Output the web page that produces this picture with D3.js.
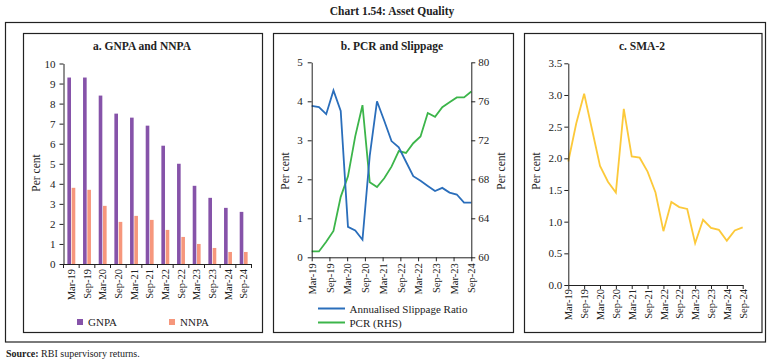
<!DOCTYPE html>
<html><head><meta charset="utf-8">
<script src="https://cdn.jsdelivr.net/npm/d3@7"></script>
<style>
body{margin:0;background:#fff;}
text{font-family:"Liberation Serif","DejaVu Serif",serif;fill:#222;}
.axis path,.axis line{stroke:#222;stroke-width:1;}
</style></head>
<body><svg id="c" width="771" height="362"></svg>
<script>
// ---- Panel a data ----
const catsA = ["Mar-19","Sep-19","Mar-20","Sep-20","Mar-21","Sep-21","Mar-22","Sep-22","Mar-23","Sep-23","Mar-24","Sep-24"];
const gnpa = [9.3,9.3,8.4,7.5,7.3,6.9,5.9,5.0,3.9,3.3,2.8,2.6];
const nnpa = [3.8,3.7,2.9,2.1,2.4,2.2,1.7,1.35,1.0,0.8,0.6,0.6];
const yTicksA = [0,1,2,3,4,5,6,7,8,9,10];
// ---- Panel b data (quarterly Mar-19 .. Sep-24) ----
const tickLabelsB = ["Mar-19","Sep-19","Mar-20","Sep-20","Mar-21","Sep-22","Mar-22","Sep-23","Mar-23","Sep-24"];
const slippage = [3.88,3.85,3.67,4.28,3.75,0.78,0.69,0.45,2.6,4.0,3.5,2.98,2.82,2.45,2.08,1.96,1.83,1.70,1.78,1.66,1.61,1.40,1.40];
const pcr = [60.6,60.6,61.6,62.7,66.2,68.3,72.4,75.6,67.7,67.2,68.1,69.3,70.9,70.7,71.7,72.4,74.8,74.4,75.4,75.9,76.4,76.4,77.0];
const yTicksBL = [0,1,2,3,4,5];
const yTicksBR = [60,64,68,72,76,80];
// ---- Panel c data (quarterly Mar-19 .. Sep-24) ----
const tickLabelsC = ["Mar-19","Sep-19","Mar-20","Sep-20","Mar-21","Sep-21","Mar-22","Sep-22","Mar-23","Sep-23","Mar-24","Sep-24"];
const sma2 = [1.95,2.55,3.02,2.45,1.88,1.63,1.46,2.78,2.03,2.01,1.79,1.46,0.85,1.31,1.23,1.20,0.66,1.03,0.90,0.87,0.70,0.86,0.91];
const yTicksC = [0,0.5,1.0,1.5,2.0,2.5,3.0,3.5];

const C = {gnpa:"#8653a9", nnpa:"#f6977c", blue:"#2a6ebb", green:"#3cb54a", yellow:"#fcc93a"};
const svg = d3.select("#c");

// Frames
svg.append("text").attr("x",392).attr("y",15).attr("text-anchor","middle")
  .style("font-size","11.5px").style("font-weight","bold").text("Chart 1.54: Asset Quality");
svg.append("rect").attr("x",5.5).attr("y",22.5).attr("width",760).attr("height",319.5).attr("fill","none").attr("stroke","#222").attr("stroke-width",1.2);
[[23.5,239],[273.5,240],[524.5,237.5]].forEach(([x,w])=>{
  svg.append("rect").attr("x",x).attr("y",33.5).attr("width",w).attr("height",299).attr("fill","none").attr("stroke","#222").attr("stroke-width",1.2);
});
svg.append("text").attr("x",6).attr("y",357).style("font-size","10px")
  .html('<tspan font-weight="bold">Source:</tspan> RBI supervisory returns.');

function title(x,t){svg.append("text").attr("x",x).attr("y",50).attr("text-anchor","middle")
  .style("font-size","11.5px").style("font-weight","bold").text(t);}
function perCent(x,y){svg.append("text").attr("transform",`translate(${x},${y}) rotate(-90)`)
  .attr("text-anchor","middle").style("font-size","11.5px").text("Per cent");}
function rotLabels(g,off){g.selectAll("text").attr("transform","rotate(-90)").attr("x",-off).attr("y",0)
  .attr("dy","0.35em").style("text-anchor","end").style("font-size","10.5px");}

// ===== Panel a =====
title(142,"a. GNPA and NNPA");
const xa = d3.scaleBand().domain(catsA).range([63.5,251.5]).padding(0);
const xa1 = d3.scaleBand().domain(["GNPA","NNPA"]).range([0,xa.bandwidth()]).paddingInner(0.16).paddingOuter(0.9);
const ya = d3.scaleLinear().domain([0,10]).range([264,63.5]);
const ga = svg.append("g");
catsA.forEach((c,i)=>{
  ga.append("rect").attr("x",xa(c)+xa1("GNPA")).attr("y",ya(gnpa[i])).attr("width",xa1.bandwidth()).attr("height",ya(0)-ya(gnpa[i])).attr("fill",C.gnpa);
  ga.append("rect").attr("x",xa(c)+xa1("NNPA")).attr("y",ya(nnpa[i])).attr("width",xa1.bandwidth()).attr("height",ya(0)-ya(nnpa[i])).attr("fill",C.nnpa);
});
const axA = svg.append("g").attr("class","axis").attr("transform","translate(0,264)")
  .call(d3.axisBottom(xa).tickSize(0).tickPadding(0));
rotLabels(axA,5);
// boundary ticks
catsA.concat(["_end"]).forEach((c,i)=>{
  const x = i<catsA.length ? xa(c) : xa.range()[1];
  svg.append("line").attr("x1",x).attr("x2",x).attr("y1",264).attr("y2",268).attr("stroke","#222");
});
const ayA = svg.append("g").attr("class","axis").attr("transform","translate(63.5,0)")
  .call(d3.axisLeft(ya).tickValues(yTicksA).tickSize(4).tickPadding(4).tickSizeOuter(0));
ayA.selectAll("text").style("font-size","11px");
perCent(40,173);
// legend
svg.append("rect").attr("x",77).attr("y",319).attr("width",6).attr("height",6).attr("fill",C.gnpa);
svg.append("text").attr("x",88).attr("y",325.5).style("font-size","11px").text("GNPA");
svg.append("rect").attr("x",169).attr("y",319).attr("width",6).attr("height",6).attr("fill",C.nnpa);
svg.append("text").attr("x",180).attr("y",325.5).style("font-size","11px").text("NNPA");

// ===== Panel b =====
title(392,"b. PCR and Slippage");
const xbL = 311.7, xbR = 471.3;
const xb = d3.scaleLinear().domain([0,slippage.length-1]).range([xbL,xbR]);
const xbT = d3.scalePoint().domain(tickLabelsB).range([xbL,xbR]);
const yb = d3.scaleLinear().domain([0,5]).range([257.3,62.3]);
const yb2 = d3.scaleLinear().domain([60,80]).range([257.3,62.3]);
svg.append("path").datum(pcr).attr("fill","none").attr("stroke",C.green).attr("stroke-width",1.8)
  .attr("d",d3.line().x((d,i)=>xb(i)).y(d=>yb2(d)));
svg.append("path").datum(slippage).attr("fill","none").attr("stroke",C.blue).attr("stroke-width",1.8)
  .attr("d",d3.line().x((d,i)=>xb(i)).y(d=>yb(d)));
const axB = svg.append("g").attr("class","axis").attr("transform","translate(0,257.3)")
  .call(d3.axisBottom(xbT).tickSize(4).tickSizeOuter(0));
rotLabels(axB,6);
const ayBL = svg.append("g").attr("class","axis").attr("transform",`translate(${xbL},0)`)
  .call(d3.axisLeft(yb).tickValues(yTicksBL).tickFormat(d3.format("d")).tickSize(4).tickPadding(5).tickSizeOuter(0));
ayBL.selectAll("text").style("font-size","11px");
const ayBR = svg.append("g").attr("class","axis").attr("transform",`translate(${xbR},0)`)
  .call(d3.axisRight(yb2).tickValues(yTicksBR).tickFormat(d3.format("d")).tickSize(4).tickPadding(3).tickSizeOuter(0));
ayBR.selectAll("text").style("font-size","11px");
perCent(289,171);
perCent(505,171);
svg.append("line").attr("x1",318).attr("x2",345).attr("y1",308.5).attr("y2",308.5).attr("stroke",C.blue).attr("stroke-width",2);
svg.append("text").attr("x",349.5).attr("y",312.5).style("font-size","11px").text("Annualised Slippage Ratio");
svg.append("line").attr("x1",318).attr("x2",345).attr("y1",322.5).attr("y2",322.5).attr("stroke",C.green).attr("stroke-width",2);
svg.append("text").attr("x",349.5).attr("y",326.5).style("font-size","11px").text("PCR (RHS)");

// ===== Panel c =====
title(642,"c. SMA-2");
const xcL = 568.3, xcR = 742.7;
const xc = d3.scaleLinear().domain([0,sma2.length-1]).range([xcL,xcR]);
const xcT = d3.scalePoint().domain(tickLabelsC).range([xcL,xcR]);
const yc = d3.scaleLinear().domain([0,3.5]).range([285,63.3]);
svg.append("path").datum(sma2).attr("fill","none").attr("stroke",C.yellow).attr("stroke-width",1.8)
  .attr("d",d3.line().x((d,i)=>xc(i)).y(d=>yc(d)));
const axC = svg.append("g").attr("class","axis").attr("transform","translate(0,285)")
  .call(d3.axisBottom(xcT).tickSize(4).tickSizeOuter(0));
rotLabels(axC,4);
const ayC = svg.append("g").attr("class","axis").attr("transform",`translate(${xcL},0)`)
  .call(d3.axisLeft(yc).tickValues(yTicksC).tickFormat(d3.format(".1f")).tickSize(4).tickPadding(2).tickSizeOuter(0));
ayC.selectAll("text").style("font-size","11px");
perCent(540,171);
</script></body></html>
